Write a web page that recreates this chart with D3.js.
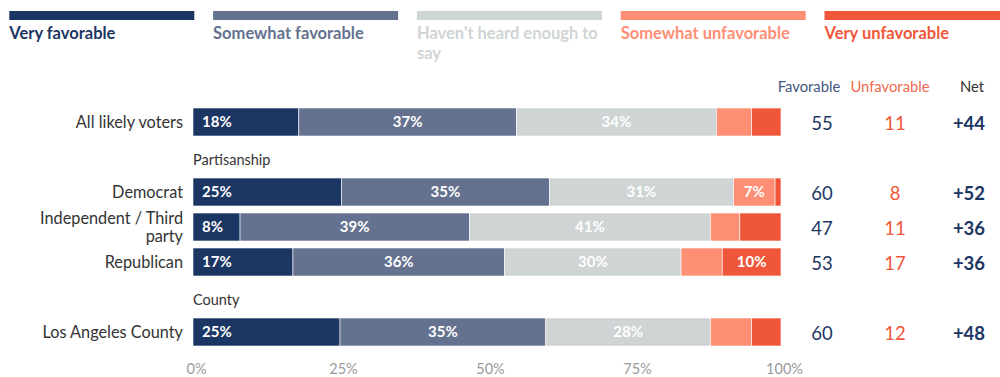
<!DOCTYPE html>
<html>
<head>
<meta charset="utf-8">
<script src="https://cdn.jsdelivr.net/npm/d3@7"></script>
<style>
  html, body { margin: 0; padding: 0; background: #fff; }
  svg { display: block; font-family: Lato, "Open Sans", sans-serif; }
</style>
</head>
<body>
<svg id="chart" width="1000" height="377"></svg>
<script>
// Row labels, the section header that precedes each row (if any)
const categories = ["All likely voters", "Democrat", "Independent / Third party", "Republican", "Los Angeles County"];
const sectionHeaders = [null, "Partisanship", null, null, "County"];

// Response shares (%) per row
const seriesNames = ["Very favorable", "Somewhat favorable", "Haven't heard enough to say", "Somewhat unfavorable", "Very unfavorable"];
const veryFavorable       = [18, 25,  8, 17, 25];
const somewhatFavorable   = [37, 35, 39, 36, 35];
const haventHeard         = [34, 31, 41, 30, 28];
const somewhatUnfavorable = [ 6,  7,  5,  7,  7];
const veryUnfavorable     = [ 5,  1,  7, 10,  5];

// Summary columns
const favorableTotal   = [55, 60, 47, 53, 60];
const unfavorableTotal = [11,  8, 11, 17, 12];
const netScore         = ["+44", "+52", "+36", "+36", "+48"];

// Axis ticks
const tickValues = [0, 0.25, 0.5, 0.75, 1];

const colors = ["#1c3664", "#64728f", "#cfd4d4", "#fe8f75", "#f0573a"];
const textDark = "#333333";

const svg = d3.select("#chart");

// ---- Legend ----
const legend = svg.append("g");
const legendStep = 203.8, legendW = 185, legendX0 = 9.3;
seriesNames.forEach((name, i) => {
  const gx = legendX0 + i * legendStep;
  legend.append("rect")
    .attr("x", gx).attr("y", 11).attr("width", legendW).attr("height", 9)
    .attr("fill", colors[i]);
  const lines = name === "Haven't heard enough to say" ? ["Haven't heard enough to", "say"] : [name];
  lines.forEach((ln, j) => {
    legend.append("text")
      .attr("x", gx).attr("y", 38.5 + j * 20)
      .attr("fill", colors[i])
      .attr("font-size", 16.5).attr("font-weight", 700)
      .text(ln);
  });
});

// ---- Layout ----
const rows = [];
categories.forEach((c, i) => {
  if (sectionHeaders[i]) rows.push({ key: "h:" + sectionHeaders[i], header: sectionHeaders[i] });
  rows.push({ key: c, index: i });
});

const y = d3.scaleBand()
  .domain(rows.map(r => r.key))
  .range([108, 346])
  .paddingInner(0.2)
  .paddingOuter(0);

const x = d3.scaleLinear().domain([0, 1]).range([193, 781]);

// Stack data, normalised so each row spans the full bar
const table = categories.map((c, i) => ({
  category: c,
  [seriesNames[0]]: veryFavorable[i],
  [seriesNames[1]]: somewhatFavorable[i],
  [seriesNames[2]]: haventHeard[i],
  [seriesNames[3]]: somewhatUnfavorable[i],
  [seriesNames[4]]: veryUnfavorable[i]
}));
const stacked = d3.stack().keys(seriesNames).offset(d3.stackOffsetExpand)(table);

// Segments narrower than this share of the bar are left unlabeled
const minLabelShare = 0.0705;

const bars = svg.append("g");
stacked.forEach((layer, si) => {
  layer.forEach((d, ri) => {
    const cat = categories[ri];
    const x0 = x(d[0]), x1 = x(d[1]);
    bars.append("rect")
      .attr("x", x0).attr("y", y(cat))
      .attr("width", Math.max(0, x1 - x0)).attr("height", y.bandwidth())
      .attr("fill", colors[si])
      .attr("stroke", "#fff").attr("stroke-width", 0.6);
    const share = d[1] - d[0];
    if (share >= minLabelShare) {
      const value = table[ri][layer.key];
      bars.append("text")
        .attr("x", si === 0 ? x0 + 9 : (x0 + x1) / 2)
        .attr("y", y(cat) + y.bandwidth() / 2)
        .attr("dy", "0.36em")
        .attr("text-anchor", si === 0 ? "start" : "middle")
        .attr("fill", "#fff")
        .attr("font-size", 15).attr("font-weight", 700)
        .text(value + "%");
    }
  });
});

// ---- Category labels ----
const catLabels = svg.append("g");
categories.forEach(c => {
  const cy = y(c) + y.bandwidth() / 2;
  const lines = c === "Independent / Third party" ? ["Independent / Third", "party"] : [c];
  lines.forEach((ln, j) => {
    catLabels.append("text")
      .attr("x", 183)
      .attr("y", cy + (j - (lines.length - 1) / 2) * 18)
      .attr("dy", "0.36em")
      .attr("text-anchor", "end")
      .attr("fill", textDark)
      .attr("font-size", 16.3)
      .text(ln);
  });
});

// ---- Section headers ----
rows.filter(r => r.header).forEach(r => {
  svg.append("text")
    .attr("x", 193)
    .attr("y", y(r.key) + y.bandwidth() / 2 + 3)
    .attr("dy", "0.36em")
    .attr("fill", textDark)
    .attr("font-size", 14.5)
    .text(r.header);
});

// ---- Summary columns ----
const colX = { fav: 822, unfav: 895, net: 969 };
const headY = 87;
svg.append("text").attr("x", 809).attr("y", headY).attr("dy", "0.36em")
  .attr("text-anchor", "middle").attr("fill", "#44557f").attr("font-size", 14.8).text("Favorable");
svg.append("text").attr("x", 890).attr("y", headY).attr("dy", "0.36em")
  .attr("text-anchor", "middle").attr("fill", "#f26a50").attr("font-size", 14.8).text("Unfavorable");
svg.append("text").attr("x", 972).attr("y", headY).attr("dy", "0.36em")
  .attr("text-anchor", "middle").attr("fill", textDark).attr("font-size", 14.8).text("Net");

categories.forEach((c, i) => {
  const cy = y(c) + y.bandwidth() / 2 + 1;
  svg.append("text").attr("x", colX.fav).attr("y", cy).attr("dy", "0.36em")
    .attr("text-anchor", "middle").attr("fill", "#1c3664").attr("font-size", 18.5)
    .text(favorableTotal[i]);
  svg.append("text").attr("x", colX.unfav).attr("y", cy).attr("dy", "0.36em")
    .attr("text-anchor", "middle").attr("fill", "#f0573a").attr("font-size", 18.5)
    .text(unfavorableTotal[i]);
  svg.append("text").attr("x", colX.net).attr("y", cy).attr("dy", "0.36em")
    .attr("text-anchor", "middle").attr("fill", "#1c3664").attr("font-size", 18.5).attr("font-weight", 700)
    .text(netScore[i]);
});

// ---- X axis ----
const axis = d3.axisBottom(x)
  .tickValues(tickValues)
  .tickFormat(d3.format(".0%"))
  .tickSize(0)
  .tickPadding(0);
const axisG = svg.append("g")
  .attr("transform", "translate(0,364)")
  .call(axis);
axisG.select(".domain").remove();
axisG.selectAll("text")
  .attr("dx", 3)
  .attr("fill", "#9a9a9a")
  .attr("font-size", 14.5)
  .attr("font-family", "Lato, 'Open Sans', sans-serif");
</script>
</body>
</html>
